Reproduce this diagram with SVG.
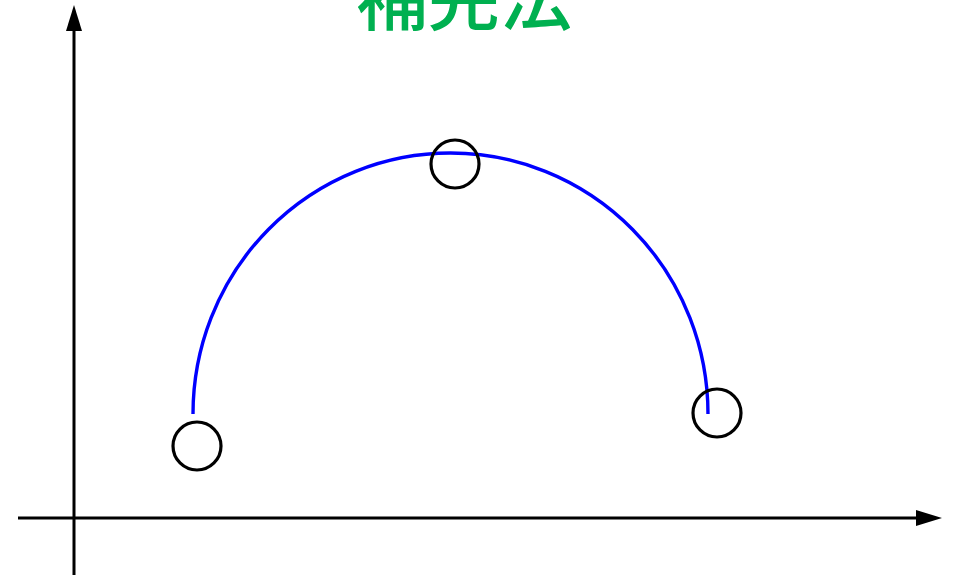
<svg xmlns="http://www.w3.org/2000/svg" width="965" height="577" viewBox="0 0 965 577">
<defs>
<style>
.axis{stroke:#000;stroke-width:3;fill:none}
.pt{stroke:#000;stroke-width:3.2;fill:none}
.curve{stroke:#0000ff;stroke-width:3.4;fill:none}
.title{font-family:"Noto Sans CJK JP","Noto Sans CJK SC",sans-serif;font-size:72px;font-weight:500;fill:#00b050}
</style>
<marker id="arr" viewBox="0 0 10 10" refX="0" refY="5" markerWidth="26" markerHeight="16" markerUnits="userSpaceOnUse" orient="auto" preserveAspectRatio="none">
<path d="M0,0 L10,5 L0,10 Z" fill="#000"/>
</marker>
</defs>
<rect width="965" height="577" fill="#fff"/>
<g id="title"><text class="title" x="464" y="24" text-anchor="middle">補完法</text></g>
<g id="connectors">
<line class="axis" x1="74" y1="575" x2="74" y2="31" marker-end="url(#arr)"/>
<line class="axis" x1="18" y1="518" x2="916" y2="518" marker-end="url(#arr)"/>
<path class="curve" d="M193,414 A257.5,261 0 0 1 708,414"/>
</g>
<g id="p1"><circle class="pt" cx="197" cy="446" r="24"/></g>
<g id="p2"><circle class="pt" cx="455" cy="164" r="24"/></g>
<g id="p3"><circle class="pt" cx="717" cy="413" r="24"/></g>
</svg>
